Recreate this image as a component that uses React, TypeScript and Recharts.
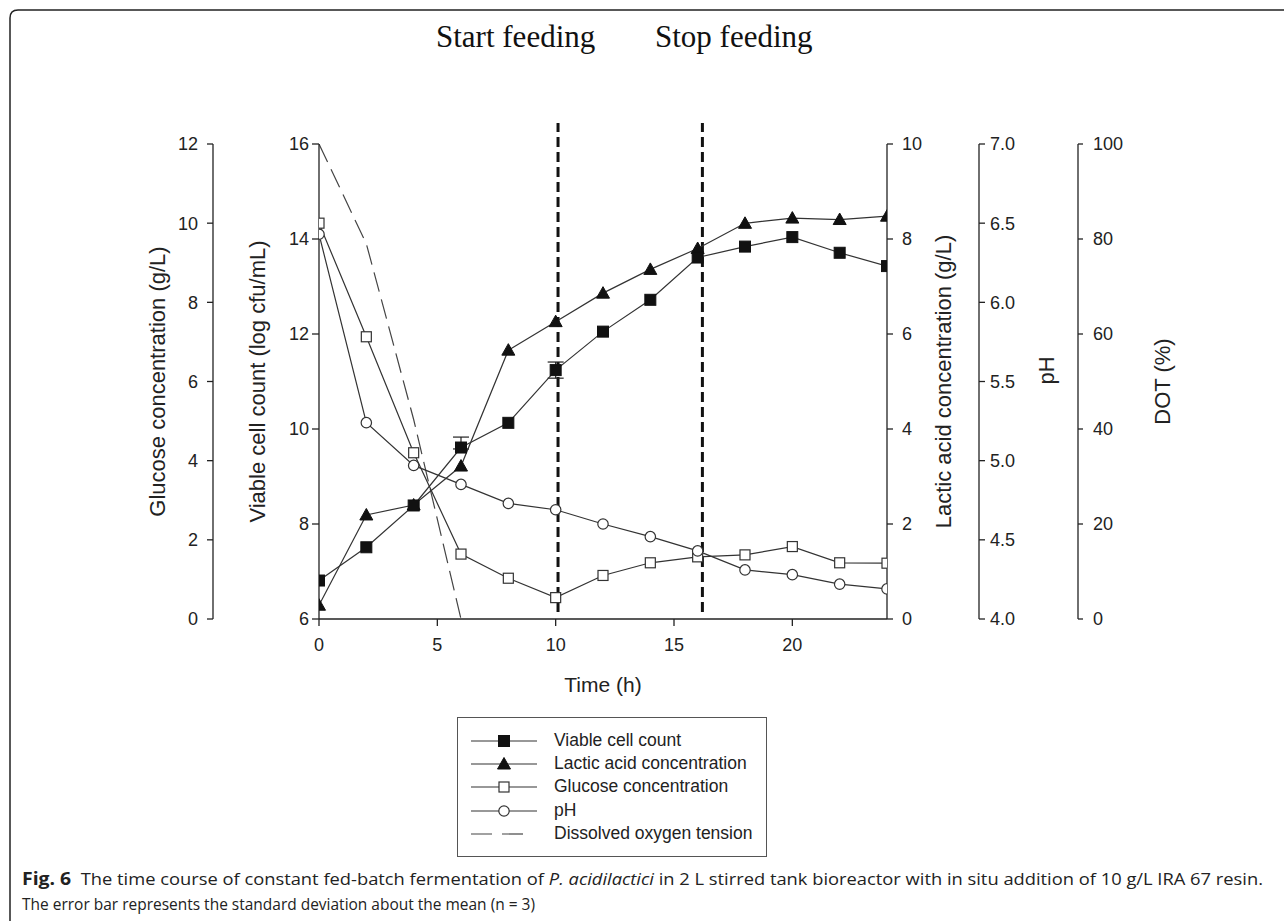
import React from "react";
import {
  ComposedChart,
  Line,
  XAxis,
  YAxis,
  ReferenceLine,
  Legend,
  ErrorBar,
} from "recharts";

// sampling times (h)
const TIME = [0, 2, 4, 6, 8, 10, 12, 14, 16, 18, 20, 22, 24];
// viable cell count (log cfu/mL)
const VIABLE = [6.81, 7.51, 8.39, 9.61, 10.13, 11.24, 12.05, 12.72, 13.61, 13.84, 14.04, 13.71, 13.43];
// [lower, upper] standard deviation, null where the bar is hidden by the marker
const VIABLE_SD = [
  null, null, null, [0.03, 0.22], null, [0.17, 0.17],
  null, null, null, null, null, null, null,
];
// lactic acid (g/L)
const LACTIC = [0.29, 2.19, 2.4, 3.22, 5.66, 6.26, 6.86, 7.36, 7.8, 8.33, 8.44, 8.41, 8.48];
// glucose (g/L)
const GLUCOSE = [10.0, 7.13, 4.2, 1.64, 1.03, 0.54, 1.1, 1.42, 1.57, 1.62, 1.83, 1.42, 1.41];
// pH
const PH = [6.43, 5.24, 4.97, 4.85, 4.73, 4.69, 4.6, 4.52, 4.43, 4.31, 4.28, 4.22, 4.19];
// dissolved oxygen tension (%)
const DOT_TIME = [0, 2, 4, 6];
const DOT = [100, 79, 42, 0];

const FEED_START = 10.1;
const FEED_STOP = 16.2;

const X_TICKS = [0, 5, 10, 15, 20];
const VIABLE_TICKS = [6, 8, 10, 12, 14, 16];
const GLUCOSE_TICKS = [0, 2, 4, 6, 8, 10, 12];
const LACTIC_TICKS = [0, 2, 4, 6, 8, 10];
const PH_TICKS = [4.0, 4.5, 5.0, 5.5, 6.0, 6.5, 7.0];
const DOT_TICKS = [0, 20, 40, 60, 80, 100];

const SERIES = [
  { key: "viable", name: "Viable cell count", marker: "filledSquare" },
  { key: "lactic", name: "Lactic acid concentration", marker: "filledTriangle" },
  { key: "glucose", name: "Glucose concentration", marker: "openSquare" },
  { key: "ph", name: "pH", marker: "openCircle" },
  { key: "dot", name: "Dissolved oxygen tension", marker: "dash" },
];

const rows = TIME.map((t, i) => {
  const j = DOT_TIME.indexOf(t);
  return {
    t,
    viable: VIABLE[i],
    viableSd: VIABLE_SD[i],
    lactic: LACTIC[i],
    glucose: GLUCOSE[i],
    ph: PH[i],
    dot: j >= 0 ? DOT[j] : null,
  };
});

// axis ids: recharts stacks same-side axes by id, first id next to the plot
const AX = { viable: "l1", glucose: "l2", lactic: "r1", ph: "r2", dot: "r3" };

const SANS = "'Liberation Sans', Arial, sans-serif";
const INK = "#222";
const LINE = "#333";

const tickStyle = { fill: INK, fontSize: 18, fontFamily: SANS };
const titleStyle = { fill: INK, fontSize: 22, fontFamily: SANS };
const axisLine = { stroke: INK, strokeWidth: 1.3 };

function marker(kind: string, cx: number, cy: number, key?: any) {
  if (cx == null || cy == null) return null;
  switch (kind) {
    case "filledSquare":
      return <rect key={key} x={cx - 5.5} y={cy - 5.5} width={11} height={11} fill="#111" stroke="#111" />;
    case "openSquare":
      return <rect key={key} x={cx - 5} y={cy - 5} width={10} height={10} fill="#fff" stroke={LINE} strokeWidth={1.2} />;
    case "filledTriangle":
      return (
        <polygon
          key={key}
          points={`${cx},${cy - 6.5} ${cx + 6.5},${cy + 5} ${cx - 6.5},${cy + 5}`}
          fill="#111"
          stroke="#111"
        />
      );
    case "openCircle":
      return <circle key={key} cx={cx} cy={cy} r={5.2} fill="#fff" stroke={LINE} strokeWidth={1.2} />;
    default:
      return null;
  }
}

const dotFor = (kind: string) => (p: any) => marker(kind, p.cx, p.cy, p.index);

function LegendBox({ payload }: any) {
  const order = SERIES.map((s) => s.key);
  const items = [...(payload ?? [])].sort(
    (a: any, b: any) => order.indexOf(a.dataKey) - order.indexOf(b.dataKey)
  );
  return (
    <div
      style={{
        boxSizing: "border-box",
        width: 310,
        height: 140,
        border: "1.5px solid #555",
        background: "#fff",
        paddingTop: 11,
        paddingLeft: 13,
      }}
    >
      {items.map((it: any) => {
        const kind = SERIES.find((s) => s.key === it.dataKey)?.marker ?? "";
        return (
          <div key={it.dataKey} style={{ display: "flex", alignItems: "center", height: 23.3 }}>
            <svg width={66} height={20} style={{ display: "block" }}>
              {kind === "dash" ? (
                <line x1={0} x2={62} y1={10} y2={10} stroke="#444" strokeWidth={1.2} strokeDasharray="21 10" />
              ) : (
                <>
                  <line x1={0} x2={66} y1={10} y2={10} stroke={LINE} strokeWidth={1.2} />
                  {marker(kind, 33, 10)}
                </>
              )}
            </svg>
            <span style={{ marginLeft: 17, fontSize: 17.5, fontFamily: SANS, color: INK, lineHeight: 1 }}>
              {it.value}
            </span>
          </div>
        );
      })}
    </div>
  );
}

export default function App() {
  return (
    <div style={{ position: "absolute", left: 0, top: 0, width: 1284, height: 921, background: "#fff" }}>
      <ComposedChart
        width={1284}
        height={921}
        data={rows}
        margin={{ top: 144, right: 106, left: 113, bottom: 252 }}
      >
        <XAxis
          xAxisId="bottom"
          dataKey="t"
          type="number"
          domain={[0, 24]}
          ticks={X_TICKS}
          allowDataOverflow
          height={50}
          tickSize={7}
          tickMargin={12}
          tick={tickStyle}
          axisLine={axisLine}
          tickLine={axisLine}
          label={{ value: "Time (h)", position: "bottom", offset: 8, ...titleStyle, fontSize: 21 }}
        />
        <XAxis
          xAxisId="top"
          orientation="top"
          type="number"
          domain={[0, 24]}
          height={0}
          tick={false}
          tickLine={false}
          axisLine={axisLine}
        />
        <YAxis
          yAxisId={AX.viable}
          orientation="left"
          type="number"
          domain={[6, 16]}
          ticks={VIABLE_TICKS}
          allowDataOverflow
          width={106}
          tickSize={7}
          tickMargin={3}
          tick={tickStyle}
          axisLine={axisLine}
          tickLine={axisLine}
          label={{ value: "Viable cell count (log cfu/mL)", angle: -90, position: "center", dx: -9, ...titleStyle }}
        />
        <YAxis
          yAxisId={AX.glucose}
          orientation="left"
          type="number"
          domain={[0, 12]}
          ticks={GLUCOSE_TICKS}
          allowDataOverflow
          width={100}
          tickSize={6}
          tickMargin={9}
          tick={tickStyle}
          axisLine={axisLine}
          tickLine={axisLine}
          label={{ value: "Glucose concentration (g/L)", angle: -90, position: "center", dx: -6, ...titleStyle }}
        />
        <YAxis
          yAxisId={AX.lactic}
          orientation="right"
          type="number"
          domain={[0, 10]}
          ticks={LACTIC_TICKS}
          allowDataOverflow
          width={92}
          tickSize={6}
          tickMargin={9}
          tick={tickStyle}
          axisLine={axisLine}
          tickLine={axisLine}
          label={{ value: "Lactic acid concentration (g/L)", angle: -90, position: "center", dx: 10, ...titleStyle }}
        />
        <YAxis
          yAxisId={AX.ph}
          orientation="right"
          type="number"
          domain={[4, 7]}
          ticks={PH_TICKS}
          allowDataOverflow
          width={99}
          tickSize={6}
          tickMargin={5}
          tick={tickStyle}
          tickFormatter={(v: number) => v.toFixed(1)}
          axisLine={axisLine}
          tickLine={axisLine}
          label={{ value: "pH", angle: -90, position: "center", dx: 18, dy: -11, ...titleStyle }}
        />
        <YAxis
          yAxisId={AX.dot}
          orientation="right"
          type="number"
          domain={[0, 100]}
          ticks={DOT_TICKS}
          allowDataOverflow
          width={100}
          tickSize={5}
          tickMargin={10}
          tick={tickStyle}
          axisLine={axisLine}
          tickLine={axisLine}
          label={{ value: "DOT (%)", angle: -90, position: "center", dx: 34, ...titleStyle }}
        />

        <ReferenceLine
          xAxisId="bottom"
          yAxisId={AX.viable}
          segment={[
            { x: FEED_START, y: 6.15 },
            { x: FEED_START, y: 16.44 },
          ]}
          stroke="#111"
          strokeWidth={3}
          strokeDasharray="10 5"
          ifOverflow="visible"
        />
        <ReferenceLine
          xAxisId="bottom"
          yAxisId={AX.viable}
          segment={[
            { x: FEED_STOP, y: 6.15 },
            { x: FEED_STOP, y: 16.44 },
          ]}
          stroke="#111"
          strokeWidth={3}
          strokeDasharray="10 5"
          ifOverflow="visible"
        />

        <Line
          xAxisId="bottom"
          yAxisId={AX.dot}
          dataKey="dot"
          name="Dissolved oxygen tension"
          stroke="#444"
          strokeWidth={1.2}
          strokeDasharray="20 8"
          dot={false}
          activeDot={false}
          isAnimationActive={false}
        />
        <Line
          xAxisId="bottom"
          yAxisId={AX.glucose}
          dataKey="glucose"
          name="Glucose concentration"
          stroke={LINE}
          strokeWidth={1.2}
          dot={dotFor("openSquare")}
          activeDot={false}
          isAnimationActive={false}
        />
        <Line
          xAxisId="bottom"
          yAxisId={AX.ph}
          dataKey="ph"
          name="pH"
          stroke={LINE}
          strokeWidth={1.2}
          dot={dotFor("openCircle")}
          activeDot={false}
          isAnimationActive={false}
        />
        <Line
          xAxisId="bottom"
          yAxisId={AX.lactic}
          dataKey="lactic"
          name="Lactic acid concentration"
          stroke={LINE}
          strokeWidth={1.2}
          dot={dotFor("filledTriangle")}
          activeDot={false}
          isAnimationActive={false}
        />
        <Line
          xAxisId="bottom"
          yAxisId={AX.viable}
          dataKey="viable"
          name="Viable cell count"
          stroke={LINE}
          strokeWidth={1.2}
          dot={dotFor("filledSquare")}
          activeDot={false}
          isAnimationActive={false}
        >
          <ErrorBar dataKey="viableSd" width={8} stroke={INK} strokeWidth={1.2} direction="y" />
        </Line>

        <Legend
          layout="vertical"
          align="center"
          verticalAlign="middle"
          wrapperStyle={{ left: 457, top: 717, width: 310, height: 140 }}
          content={<LegendBox />}
        />
      </ComposedChart>

      <svg
        width={1284}
        height={921}
        style={{ position: "absolute", left: 0, top: 0, pointerEvents: "none" }}
      >
        <path d="M 10 921 L 10 18 Q 10 10 18 10 L 1284 10" fill="none" stroke="#222" strokeWidth={1.5} />
        <text x={436} y={47} fontFamily="'Liberation Serif', 'Times New Roman', serif" fontSize={31} fill="#111">
          Start feeding
        </text>
        <text x={655} y={47} fontFamily="'Liberation Serif', 'Times New Roman', serif" fontSize={31} fill="#111">
          Stop feeding
        </text>
        <text
          x={22}
          y={885}
          fontFamily="'Open Sans', 'Noto Sans', sans-serif"
          fontSize={17}
          fill="#222"
          textLength={1241}
          lengthAdjust="spacingAndGlyphs"
        >
          <tspan fontWeight={700} fontSize={18}>Fig. 6</tspan>
          <tspan>{"\u00a0\u00a0The time course of constant fed-batch fermentation of "}</tspan>
          <tspan fontStyle="italic">P. acidilactici</tspan>
          <tspan>{" in 2 L stirred tank bioreactor with in situ addition of 10 g/L IRA 67 resin."}</tspan>
        </text>
        <text
          x={22}
          y={910}
          fontFamily="'Open Sans', 'Noto Sans', sans-serif"
          fontSize={17}
          fill="#222"
          textLength={513}
          lengthAdjust="spacingAndGlyphs"
        >
          The error bar represents the standard deviation about the mean (n = 3)
        </text>
      </svg>
    </div>
  );
}
